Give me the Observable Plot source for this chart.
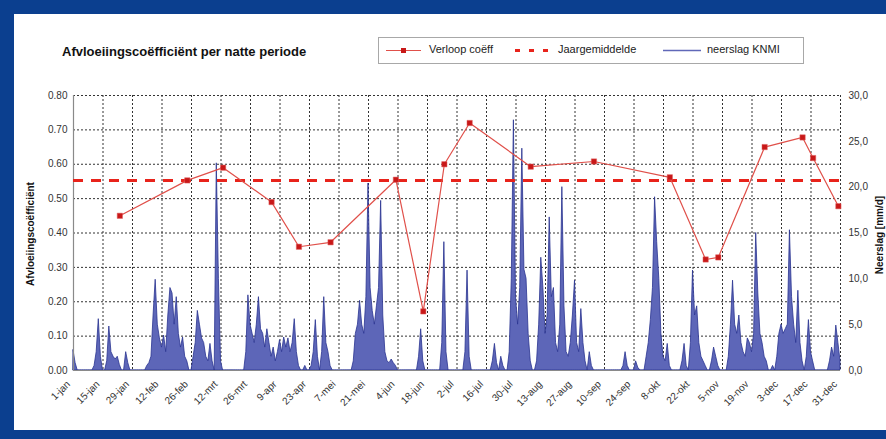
<!DOCTYPE html>
<html><head><meta charset="utf-8">
<script src="https://cdn.jsdelivr.net/npm/d3@7"></script>
<script src="https://cdn.jsdelivr.net/npm/@observablehq/plot@0.6"></script>
<style>
html,body{margin:0;background:#fff;font-family:"Liberation Sans",Arial,sans-serif;overflow:hidden}
#frame{position:relative;width:886px;height:439px;background:#0b3f8f;overflow:hidden}
#inner{position:absolute;left:14px;top:14px;width:900px;height:416px;background:#fff}
#title{position:absolute;left:62px;top:44px;font-weight:bold;font-size:13px;color:#111;white-space:nowrap}
#legend{position:absolute;left:378px;top:37px;width:424px;height:25px;border:1px solid #a8a8a8;background:#fff}
.lt{position:absolute;top:5px;font-size:11px;color:#222;white-space:nowrap}
#chart{position:absolute;left:0;top:80px;line-height:0}
.ytitle{position:absolute;font-weight:bold;font-size:10px;color:#111;white-space:nowrap;transform:translate(-50%,-50%) rotate(-90deg)}
</style></head>
<body>
<div id="frame">
  <div id="inner"></div>
  <div id="title">Afvloeiingscoëfficiënt per natte periode</div>
  <div id="legend">
    <svg width="424" height="25" style="position:absolute;left:0;top:0">
      <line x1="7" y1="12.5" x2="42" y2="12.5" stroke="#e0504a" stroke-width="1"/>
      <rect x="22" y="10" width="5" height="5" fill="#c81818"/>
      <line x1="136" y1="12.5" x2="176" y2="12.5" stroke="#e8231b" stroke-width="3" stroke-dasharray="5,9"/>
      <line x1="284" y1="12.5" x2="322" y2="12.5" stroke="#6068b8" stroke-width="1.5"/>
    </svg>
    <span class="lt" style="left:50px">Verloop coëff</span>
    <span class="lt" style="left:179px">Jaargemiddelde</span>
    <span class="lt" style="left:328px">neerslag KNMI</span>
  </div>
  <div class="ytitle" style="left:30px;top:234px">Afvloeiingscoëfficiënt</div>
  <div class="ytitle" style="left:879px;top:235px">Neerslag [mm/d]</div>
  <div id="chart"></div>
</div>
<script>
// x-axis tick labels (every 14 days from 1 January)
const xTickLabels = ["1-jan","15-jan","29-jan","12-feb","26-feb","12-mrt","26-mrt","9-apr","23-apr","7-mei","21-mei","4-jun","18-jun","2-jul","16-jul","30-jul","13-aug","27-aug","10-sep","24-sep","8-okt","22-okt","5-nov","19-nov","3-dec","17-dec","31-dec"];
const xTickDays = xTickLabels.map((_, i) => i * 14);
const leftTicks = [0, 0.1, 0.2, 0.3, 0.4, 0.5, 0.6, 0.7, 0.8];
const rightTicks = [0, 5, 10, 15, 20, 25, 30];

// Afvloeiingscoëfficiënt per natte periode (day of year, value)
const coefDay = [22, 54, 71, 94, 107, 122, 153, 166, 176, 188, 217, 247, 283, 300, 306, 328, 346, 351, 363];
const coefVal = [0.45, 0.553, 0.59, 0.49, 0.36, 0.373, 0.555, 0.172, 0.60, 0.72, 0.593, 0.608, 0.562, 0.323, 0.329, 0.65, 0.678, 0.618, 0.478];
const meanCoef = 0.553;

// neerslag KNMI, mm/d (days with rain; all other days 0)
const rainDay = [0,1,10,11,12,13,16,17,18,19,20,21,22,25,26,35,36,37,38,39,40,41,42,43,44,45,46,47,48,49,50,51,52,53,54,57,58,59,60,61,62,63,64,65,66,68,69,70,
 82,83,84,85,86,87,88,89,90,91,92,93,94,95,96,97,98,99,100,101,102,103,104,105,106,107,110,113,114,115,116,118,119,120,121,122,
 133,134,135,136,137,138,139,140,141,142,143,144,145,146,147,148,149,150,151,152,153,164,165,166,175,176,177,186,187,188,199,200,201,203,204,
 207,208,209,210,211,212,213,214,215,216,217,220,221,222,223,224,225,226,227,228,229,230,231,232,233,234,235,236,237,238,239,240,241,242,243,245,246,
 261,262,263,267,268,272,273,274,275,276,277,278,279,280,281,282,283,289,290,291,293,294,295,296,297,298,299,300,303,304,305,306,
 311,312,313,314,315,316,317,318,319,320,321,322,323,324,325,326,327,328,329,332,334,335,336,337,338,339,340,341,342,343,344,345,346,348,349,350,351,359,360,361,362,363,364];
const rainMm = [2.2,0.8,0.5,2.0,5.6,1.5,1.0,4.8,2.0,1.5,1.2,1.5,0.6,2.0,0.8,0.5,0.8,1.5,6,9.9,5,3.5,2.5,3.8,2,6,9,8.4,5,8,4,2.5,3.6,1.5,1,1.5,3,6.5,5,3.5,3,1.5,1,2.9,1,22.6,10,1,
 2,8.2,5,4,3,5,8,4.5,4,2.5,4.5,3,1.5,2.5,1,2,3.3,2,3.6,2.5,3.5,2,3,5.6,2,0.5,0.5,0.5,2,5.5,1.5,2,8,3,2,0.5,
 1,4,5,7.6,5,4,8,20.4,9,6.5,5,7,9,18.5,6,2,1,0.8,1.2,0.8,0.5,1.5,4.5,1,3,14,2,2,10.9,1.5,1,2.9,0.8,1.5,0.5,
 2,10,27.3,8,5,9,24.2,11,10,4,1,1,5,12.3,9,4,6,16.7,8,9,3,2,5,20,7,2,1.5,3,6,9.8,3,2,6.7,3,1,2,0.5,
 0.5,2,0.5,1,0.3,1.5,3,5.5,9,18.9,14,10,4,1.5,1,2.9,0.5,1,2.9,0.5,3,10.9,6,7,3,1.5,1,0.5,1,2.5,1.5,0.5,
 1.5,5,9.8,5,4,6,3,2,1.5,3.5,3,2,4,15,8.4,4,3,1.5,1,0.5,1.5,4,5,4,4.5,5,15.3,8,5,3,8.7,3,1,1.5,5.5,2,1,1,2.5,1.5,4.9,3,1];

const k = 0.8 / 30; // right axis (mm) onto left axis scale
const rainMap = new Map(rainDay.map((d, i) => [d, rainMm[i]]));
const rain = d3.range(0, 365).map(d => ({day: d, mm: rainMap.get(d) ?? 0}));
const coef = coefDay.map((d, i) => ({day: d, v: coefVal[i]}));

const chart = Plot.plot({
  width: 886, height: 359,
  marginLeft: 73, marginRight: 46, marginTop: 15, marginBottom: 69,
  style: {background: "transparent", fontFamily: "'Liberation Sans', Arial, sans-serif", fontSize: "10px", color: "#333"},
  x: {domain: [0, 364]},
  y: {domain: [0, 0.8]},
  marks: [
    Plot.ruleY(leftTicks.slice(1), {stroke: "#333", strokeDasharray: "2,2", strokeWidth: 1}),
    Plot.ruleX(xTickDays.slice(1), {stroke: "#333", strokeDasharray: "2,2", strokeWidth: 1}),
    Plot.areaY(rain, {x: "day", y: d => d.mm * k, fill: "#5d66b8", stroke: "#2a3390", strokeWidth: 0.8, curve: "linear"}),
    Plot.ruleY([0], {stroke: "#8a8a8a", strokeWidth: 1.2}),
    Plot.ruleX([0], {stroke: "#8a8a8a", strokeWidth: 1.2}),
    Plot.ruleY([meanCoef], {stroke: "#e8231b", strokeWidth: 3, strokeDasharray: "10,8"}),
    Plot.line(coef, {x: "day", y: "v", stroke: "#e0504a", strokeWidth: 1.2}),
    Plot.dot(coef, {x: "day", y: "v", symbol: "square", r: 3, fill: "#c81818", stroke: "#e06060", strokeWidth: 0.5}),
    Plot.axisY({ticks: leftTicks, tickFormat: d => d.toFixed(2), tickSize: 0, tickPadding: 6, label: null, fontSize: 10, fill: "#333"}),
    Plot.axisY({anchor: "right", ticks: rightTicks.map(v => v * k), tickFormat: d => (d / k).toFixed(1).replace(".", ","), tickSize: 0, tickPadding: 8, label: null, fontSize: 10, fill: "#333"}),
    Plot.axisX({ticks: xTickDays, tickFormat: d => xTickLabels[Math.round(d / 14)], tickRotate: -45, tickSize: 0, tickPadding: 6, dx: -5, dy: 6, label: null, fontSize: 10, fill: "#333"})
  ]
});
document.getElementById("chart").appendChild(chart);
</script>
</body></html>
